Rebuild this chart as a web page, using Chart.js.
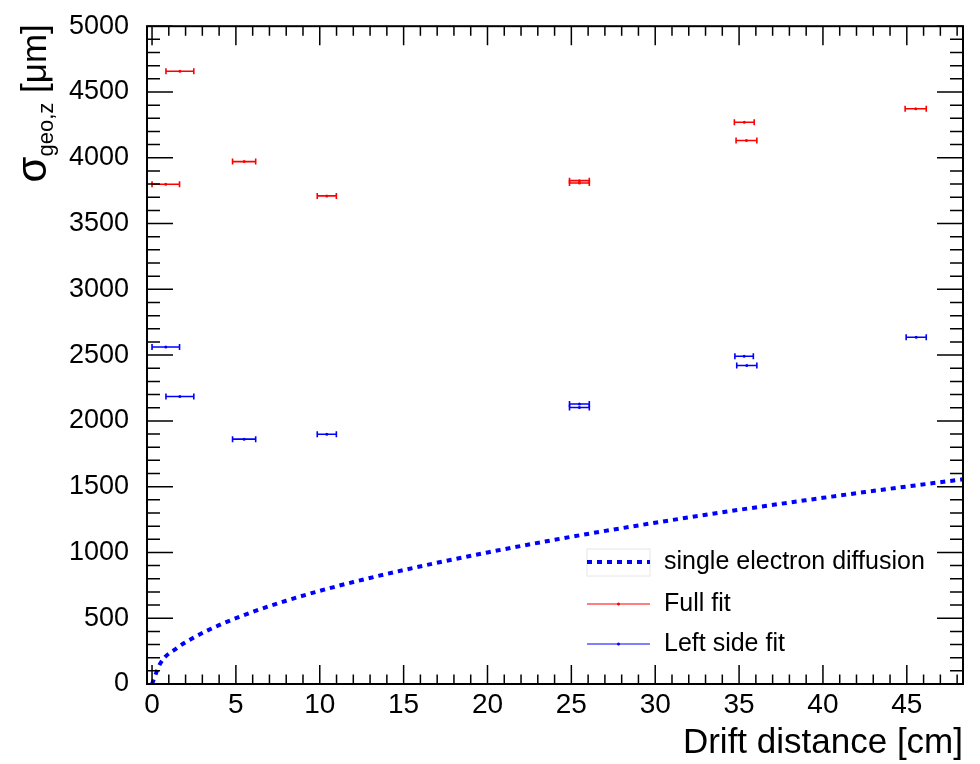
<!DOCTYPE html>
<html>
<head>
<meta charset="utf-8">
<script src="https://cdn.jsdelivr.net/npm/chart.js@4"></script>
<style>
  html, body { margin: 0; padding: 0; background: #fff; }
  #wrap { width: 980px; height: 764px; position: relative; }
</style>
</head>
<body>
<div id="wrap"><canvas id="sigmaChart"></canvas></div>
<script>
const FONT = "'Liberation Sans', Arial, Helvetica, sans-serif";

// tick labels
const xTicks = [0, 5, 10, 15, 20, 25, 30, 35, 40, 45];
const yTicks = [0, 500, 1000, 1500, 2000, 2500, 3000, 3500, 4000, 4500, 5000];

// Full fit (red)
const fullX    = [0.82, 1.66, 5.49, 10.42, 25.48, 25.48, 35.31, 35.44, 45.53];
const fullY    = [3799, 4658, 3971, 3710, 3826, 3808, 4270, 4131, 4372];
const fullXErr = [0.82, 0.83, 0.69, 0.57, 0.59, 0.59, 0.59, 0.62, 0.63];

// Left side fit (blue)
const leftX    = [0.82, 1.66, 5.49, 10.42, 25.48, 25.48, 35.30, 35.46, 45.56];
const leftY    = [2561, 2185, 1861, 1898, 2128, 2102, 2491, 2421, 2636];
const leftXErr = [0.82, 0.83, 0.69, 0.57, 0.59, 0.59, 0.55, 0.60, 0.60];

// single electron diffusion curve
const diffX = [0, 0.5, 1.5, 2.5, 4, 6, 8, 10, 12, 15, 20, 25, 30, 35, 40, 42.5, 45, 47, 48.35];
const diffY = [0, 158, 274, 354, 447, 548, 633, 708, 775, 866, 1000, 1119, 1226, 1324, 1415, 1459, 1501, 1534, 1556];

const pts = (xs, ys) => xs.map((x, i) => ({ x: x, y: ys[i] }));

// error bars, frame, ROOT-style ticks, legend, y title
const rootStyle = {
  id: 'rootStyle',
  afterDatasetsDraw(chart) {
    const ctx = chart.ctx;
    const xs = chart.scales.x, ys = chart.scales.y;
    chart.data.datasets.forEach(ds => {
      if (!ds.xErr) return;
      ctx.save();
      ctx.strokeStyle = ds.borderColor;
      ctx.lineWidth = 1.6;
      ds.data.forEach((p, i) => {
        const x1 = xs.getPixelForValue(p.x - ds.xErr[i]);
        const x2 = xs.getPixelForValue(p.x + ds.xErr[i]);
        const y = ys.getPixelForValue(p.y);
        ctx.beginPath();
        ctx.moveTo(x1, y); ctx.lineTo(x2, y);
        ctx.moveTo(x1, y - 3); ctx.lineTo(x1, y + 3);
        ctx.moveTo(x2, y - 3); ctx.lineTo(x2, y + 3);
        ctx.stroke();
      });
      ctx.restore();
    });
  },
  afterDraw(chart) {
    const ctx = chart.ctx;
    const a = chart.chartArea;
    const xs = chart.scales.x, ys = chart.scales.y;
    ctx.save();
    ctx.strokeStyle = '#000';
    ctx.lineWidth = 1.5;
    ctx.beginPath();
    for (let v = 0; v <= 48; v++) {
      const px = xs.getPixelForValue(v);
      const len = v % 5 === 0 ? 19 : 9.5;
      ctx.moveTo(px, a.bottom); ctx.lineTo(px, a.bottom - len);
      ctx.moveTo(px, a.top); ctx.lineTo(px, a.top + len);
    }
    for (let v = 0; v <= 5000; v += 100) {
      const py = ys.getPixelForValue(v);
      const len = v % 500 === 0 ? 26 : 13;
      ctx.moveTo(a.left, py); ctx.lineTo(a.left + len, py);
      ctx.moveTo(a.right, py); ctx.lineTo(a.right - len, py);
    }
    ctx.stroke();
    ctx.lineWidth = 2;
    ctx.strokeRect(a.left, a.top, a.right - a.left, a.bottom - a.top);

    // legend
    const ds = chart.data.datasets;
    const lx1 = 587, lx2 = 650, tx = 664;
    const rows = [562, 604, 644];
    ctx.strokeStyle = '#e6e6e6';
    ctx.lineWidth = 1;
    ctx.strokeRect(lx1, 549, lx2 - lx1, 27);
    ctx.font = '25px ' + FONT;
    ctx.fillStyle = '#000';
    ctx.textBaseline = 'middle';
    ctx.textAlign = 'left';
    const order = [2, 0, 1];
    order.forEach((k, r) => {
      const d = ds[k];
      const y = rows[r];
      ctx.save();
      ctx.strokeStyle = d.borderColor;
      ctx.lineWidth = k === 2 ? 4 : 1.2;
      if (k === 2) ctx.setLineDash(d.borderDash);
      ctx.beginPath();
      ctx.moveTo(lx1, y); ctx.lineTo(lx2, y);
      ctx.stroke();
      if (k !== 2) {
        ctx.fillStyle = d.borderColor;
        ctx.beginPath();
        ctx.arc((lx1 + lx2) / 2, y, 1.5, 0, Math.PI * 2);
        ctx.fill();
      }
      ctx.restore();
      ctx.fillText(d.label, tx, y);
    });

    // y axis title with subscript
    const sig = '42px ' + FONT, big = '35px ' + FONT, small = '22px ' + FONT;
    ctx.font = sig;
    const wS = ctx.measureText('σ').width;
    ctx.font = big;
    const wR = ctx.measureText(' [μm]').width;
    ctx.font = small;
    const wSub = ctx.measureText('geo,z').width;
    ctx.translate(46, a.top - 2);
    ctx.rotate(-Math.PI / 2);
    ctx.textBaseline = 'alphabetic';
    let x0 = -(wS + wSub + wR);
    ctx.font = sig;
    ctx.fillText('σ', x0, 0);
    ctx.font = small;
    ctx.fillText('geo,z', x0 + wS, 7);
    ctx.font = big;
    ctx.fillText(' [μm]', x0 + wS + wSub, 0);
    ctx.restore();
  }
};

const ctx = document.getElementById('sigmaChart').getContext('2d');

new Chart(ctx, {
  type: 'scatter',
  data: {
    datasets: [
      {
        label: 'Full fit',
        data: pts(fullX, fullY),
        xErr: fullXErr,
        borderColor: '#ff0000',
        backgroundColor: '#ff0000',
        pointRadius: 1.5,
        pointBorderWidth: 0
      },
      {
        label: 'Left side fit',
        data: pts(leftX, leftY),
        xErr: leftXErr,
        borderColor: '#0000ff',
        backgroundColor: '#0000ff',
        pointRadius: 1.5,
        pointBorderWidth: 0
      },
      {
        label: 'single electron diffusion',
        data: pts(diffX, diffY),
        showLine: true,
        borderColor: '#0000ff',
        backgroundColor: '#0000ff',
        borderWidth: 4,
        borderDash: [5, 5],
        pointRadius: 0,
        cubicInterpolationMode: 'monotone'
      }
    ]
  },
  options: {
    responsive: true,
    maintainAspectRatio: false,
    animation: false,
    layout: { padding: { top: 15, right: 17, left: 0, bottom: 0 } },
    plugins: {
      legend: { display: false },
      tooltip: { enabled: false }
    },
    scales: {
      x: {
        type: 'linear',
        min: -0.3,
        max: 48.35,
        grid: { display: false },
        border: { display: false },
        afterBuildTicks: s => { s.ticks = xTicks.map(v => ({ value: v })); },
        afterFit: s => { s.height = 80; },
        ticks: {
          color: '#000',
          padding: -4,
          maxRotation: 0,
          callback: v => String(v),
          font: { family: FONT, size: 28 }
        },
        title: {
          display: true,
          text: 'Drift distance [cm]',
          align: 'end',
          color: '#000',
          padding: { top: 0, bottom: 0 },
          font: { family: FONT, size: 35 }
        }
      },
      y: {
        min: 0,
        max: 5000,
        grid: { display: false },
        border: { display: false },
        afterBuildTicks: s => { s.ticks = yTicks.map(v => ({ value: v })); },
        afterFit: s => { s.width = 147; },
        ticks: {
          color: '#000',
          padding: 10,
          callback: v => String(v),
          font: { family: FONT, size: 27 }
        }
      }
    }
  },
  plugins: [rootStyle]
});
</script>
</body>
</html>
